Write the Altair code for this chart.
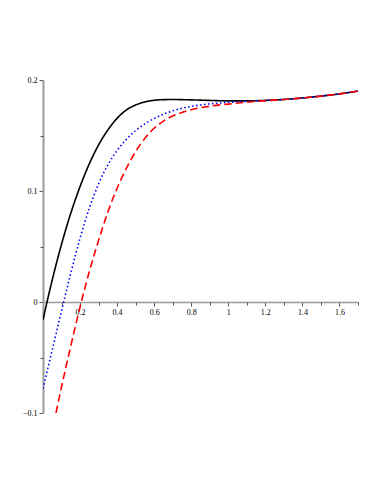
import altair as alt
import pandas as pd

# Series values
x_black = [0.00, 0.05, 0.10, 0.15, 0.20, 0.25, 0.30, 0.35, 0.40, 0.45, 0.50, 0.55, 0.60, 0.65, 0.70,
           0.80, 0.90, 1.00, 1.10, 1.20, 1.30, 1.40, 1.50, 1.60, 1.70]
y_black = [-0.016, 0.020, 0.052, 0.080, 0.104, 0.1245, 0.1415, 0.155, 0.1655, 0.173, 0.1775, 0.1803,
           0.1817, 0.1823, 0.1824, 0.1821, 0.1816, 0.1812, 0.1812, 0.1816, 0.1825, 0.1838, 0.1855,
           0.1875, 0.190]

x_blue = [0.00, 0.05, 0.10, 0.15, 0.20, 0.25, 0.30, 0.35, 0.40, 0.45, 0.50, 0.55, 0.60, 0.65, 0.70,
          0.75, 0.80, 0.85, 0.90, 1.00, 1.10, 1.20, 1.30, 1.40, 1.50, 1.60, 1.70]
y_blue = [-0.078, -0.043, -0.008, 0.026, 0.0575, 0.0845, 0.1065, 0.1235, 0.1365, 0.1465, 0.1545, 0.1605,
          0.1653, 0.1692, 0.1722, 0.1745, 0.1762, 0.1775, 0.1785, 0.1798, 0.1808, 0.1816, 0.1825,
          0.1838, 0.1855, 0.1875, 0.190]

x_red = [0.07, 0.10, 0.15, 0.20, 0.25, 0.30, 0.35, 0.40, 0.45, 0.50, 0.55, 0.60, 0.65, 0.70, 0.75,
         0.80, 0.85, 0.90, 1.00, 1.10, 1.20, 1.30, 1.40, 1.50, 1.60, 1.70]
y_red = [-0.100, -0.0765, -0.0395, -0.0045, 0.0275, 0.0555, 0.081, 0.1025, 0.1205, 0.1355, 0.1475,
         0.1565, 0.163, 0.1675, 0.1708, 0.1732, 0.1750, 0.1764, 0.1783, 0.1800, 0.1813, 0.1825, 0.1838,
         0.1855, 0.1875, 0.190]

x_tick_labels = [0.2, 0.4, 0.6, 0.8, 1.0, 1.2, 1.4, 1.6]
x_minor = [0.1, 0.3, 0.5, 0.7, 0.9, 1.1, 1.3, 1.5, 1.7]
y_tick_labels = [-0.1, 0.0, 0.1, 0.2]
y_minor = [-0.05, 0.05, 0.15]

series = ["black", "blue", "red"]

rows = []
for name, xs, ys in [("black", x_black, y_black), ("blue", x_blue, y_blue), ("red", x_red, y_red)]:
    for i, (a, b) in enumerate(zip(xs, ys)):
        rows.append({"series": name, "x": a, "y": b, "i": i})
df = pd.DataFrame(rows)

W, H = 315, 333
xdom = [0, 1.7]
ydom = [-0.1, 0.2]
x_offset = -round(H * (0 - ydom[0]) / (ydom[1] - ydom[0]))

FONT = "Liberation Serif"

xscale = alt.Scale(domain=xdom, nice=False, zero=False)
yscale = alt.Scale(domain=ydom, nice=False, zero=False)

lines = alt.Chart(df).mark_line(interpolate="monotone", strokeWidth=1.6, clip=True).encode(
    x=alt.X("x:Q", scale=xscale,
            axis=alt.Axis(values=x_tick_labels, orient="bottom", offset=x_offset, title=None, grid=False,
                          domainColor="#9a9a9a", domainWidth=1.5, tickColor="#555555", tickSize=4,
                          tickWidth=1, labelFont=FONT, labelFontSize=8, labelColor="#000000",
                          labelPadding=2, format="~g")),
    y=alt.Y("y:Q", scale=yscale,
            axis=alt.Axis(values=y_tick_labels, orient="left", title=None, grid=False,
                          domainColor="#9a9a9a", domainWidth=2, tickColor="#555555", tickSize=4,
                          tickWidth=1, labelFont=FONT, labelFontSize=8, labelColor="#000000",
                          labelPadding=2, format="~g")),
    color=alt.Color("series:N", scale=alt.Scale(domain=series, range=["#000000", "#0000ff", "#ff0000"]),
                    legend=None),
    strokeDash=alt.StrokeDash("series:N",
                              scale=alt.Scale(domain=series, range=[[1, 0], [1.5, 2.5], [7.5, 4]]),
                              legend=None),
    order="i:Q",
)

minor = alt.Chart(df).mark_point(opacity=0).encode(
    x=alt.X("x:Q", scale=xscale,
            axis=alt.Axis(values=x_minor, orient="bottom", offset=x_offset, title=None, grid=False,
                          domain=False, labels=False, tickColor="#555555", tickSize=3, tickWidth=1)),
    y=alt.Y("y:Q", scale=yscale,
            axis=alt.Axis(values=y_minor, orient="left", title=None, grid=False,
                          domain=False, labels=False, tickColor="#555555", tickSize=3, tickWidth=1)),
)

chart = alt.layer(lines, minor).resolve_axis(x="independent", y="independent").properties(
    width=W, height=H, padding={"left": 14, "top": 68, "right": 5, "bottom": 5}
).configure_view(stroke=None)

chart.save("out.html", embed_options={"renderer": "svg", "actions": False})
